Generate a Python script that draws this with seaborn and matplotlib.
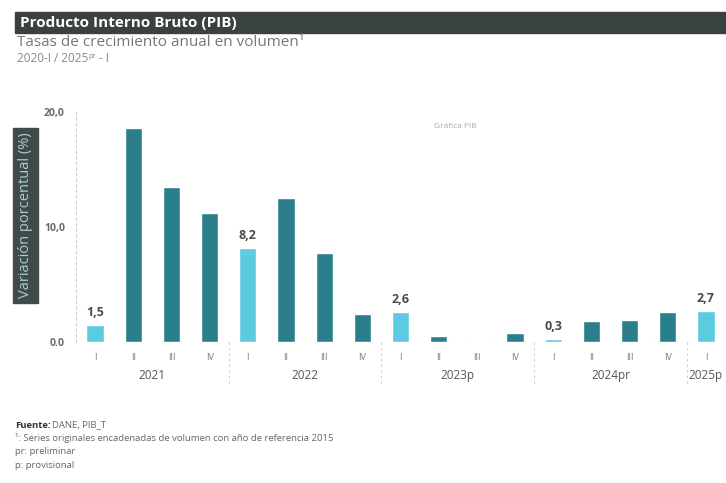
import matplotlib
matplotlib.use("Agg")
import matplotlib.pyplot as plt
import seaborn as sns
import pandas as pd
from matplotlib.patches import Rectangle

sns.set_theme(style="white")
plt.rcParams['font.family'] = ['Open Sans', 'DejaVu Sans']

years = ["2021", "2022", "2023p", "2024pr", "2025p"]
quarters = ["I", "II", "III", "IV"]
values = [1.5, 18.6, 13.5, 11.2,
          8.2, 12.5, 7.7, 2.4,
          2.6, 0.5, 0.1, 0.8,
          0.3, 1.8, 1.9, 2.6,
          2.7]
year_of_bar = [y for y in years[:4] for _ in quarters] + ["2025p"]
quarter_of_bar = quarters * 4 + ["I"]
labels_shown = {0: "1,5", 4: "8,2", 8: "2,6", 12: "0,3", 16: "2,7"}
ytick_vals = [0, 10, 20]
ytick_labels = ["0.0", "10,0", "20,0"]

dark = "#2b7f8c"
light = "#5ccbe0"

df = pd.DataFrame({
    "key": [f"{y}-{q}" for y, q in zip(year_of_bar, quarter_of_bar)],
    "valor": values,
    "tipo": ["I" if q == "I" else "otro" for q in quarter_of_bar],
})

fig = plt.figure(figsize=(7.26, 4.83), dpi=100)
ax = fig.add_axes([76/726, 1-342/483, 649/726, 230/483])

sns.barplot(data=df, x="key", y="valor", hue="tipo", order=list(df["key"]),
            palette={"I": light, "otro": dark}, dodge=False, width=0.45,
            legend=False, ax=ax, saturation=1)

ax.set_xlim(-0.5, len(values) - 0.5)
ax.set_ylim(0, 20)
ax.set_yticks(ytick_vals)
ax.set_yticklabels(ytick_labels, fontsize=7.5, color="#6a6a6a", fontweight="bold")
ax.set_xticks(range(len(values)))
ax.set_xticklabels(quarter_of_bar, fontsize=6.5, color="#777777")
ax.tick_params(axis="x", length=0, pad=8)
ax.tick_params(axis="y", length=0, pad=8)
ax.set_xlabel("")
ax.set_ylabel("")
for s in ["top", "right", "bottom"]:
    ax.spines[s].set_visible(False)
ax.spines["left"].set_color("#cccccc")
ax.spines["left"].set_linestyle((0, (2, 3)))
ax.spines["left"].set_linewidth(0.8)
ax.axhline(0, color="#cccccc", lw=0.8, ls=(0, (2, 3)))

for i, txt in labels_shown.items():
    ax.text(i, values[i] + 0.5, txt, ha="center", va="bottom",
            fontsize=9, fontweight="bold", color="#4a4a4a")

# year groups
trans = ax.get_xaxis_transform()
starts = [0, 4, 8, 12, 16]
ends = [3, 7, 11, 15, 16]
for y, s, e in zip(years, starts, ends):
    ax.text((s + e) / 2, -0.145, y, transform=trans, ha="center", va="center",
            fontsize=8.5, color="#555555")
for b in [3.5, 7.5, 11.5, 15.5]:
    ax.plot([b, b], [0, -0.19], transform=trans, color="#cccccc",
            lw=0.8, ls=(0, (2, 3)), clip_on=False)

renderer = fig.canvas.get_renderer()

def right_edge(t):
    return t.get_window_extent(renderer=renderer).x1 / fig.bbox.width

# header
fig.patches.append(Rectangle((15/726, 1-33/483), 711/726, 21/483,
                             transform=fig.transFigure, color="#3a4240", zorder=0))
fig.text(20/726, 1-23/483, "Producto Interno Bruto (PIB)", color="white",
         fontsize=11, fontweight="bold", va="center")
fig.text(17/726, 1-43/483, "Tasas de crecimiento anual en volumen¹",
         color="#777777", fontsize=11, va="center")
t2 = fig.text(17/726, 1-59/483, "2020-I / 2025", color="#888888", fontsize=8.5, va="center")
t3 = fig.text(right_edge(t2), 1-56/483, "pr", color="#888888", fontsize=5.5, va="center")
fig.text(right_edge(t3), 1-59/483, " - I", color="#888888", fontsize=8.5, va="center")

# y-label box
fig.patches.append(Rectangle((13/726, 1-303/483), 25/726, 175/483,
                             transform=fig.transFigure, color="#3f4b49", zorder=0))
fig.text(25.5/726, 1-215/483, "Variación porcentual (%)", rotation=90,
         color="#a9cdd4", fontsize=10.5, ha="center", va="center")

fig.text(455/726, 1-127/483, "Gráfica PIB", color="#aaaaaa", fontsize=6, ha="center", va="center")

# footer
fs = 6.8
t = fig.text(15/726, 1-425/483, "Fuente:", fontsize=fs, fontweight="bold", color="#333333", va="center")
fig.text(right_edge(t) + 2/726, 1-425/483, "DANE, PIB_T", fontsize=fs, color="#666666", va="center")
fig.text(15/726, 1-438/483, "¹: Series originales encadenadas de volumen con año de referencia 2015",
         fontsize=fs, color="#666666", va="center")
fig.text(15/726, 1-451/483, "pr: preliminar", fontsize=fs, color="#666666", va="center")
fig.text(15/726, 1-465/483, "p: provisional", fontsize=fs, color="#666666", va="center")

fig.savefig("out.png", dpi=100)
